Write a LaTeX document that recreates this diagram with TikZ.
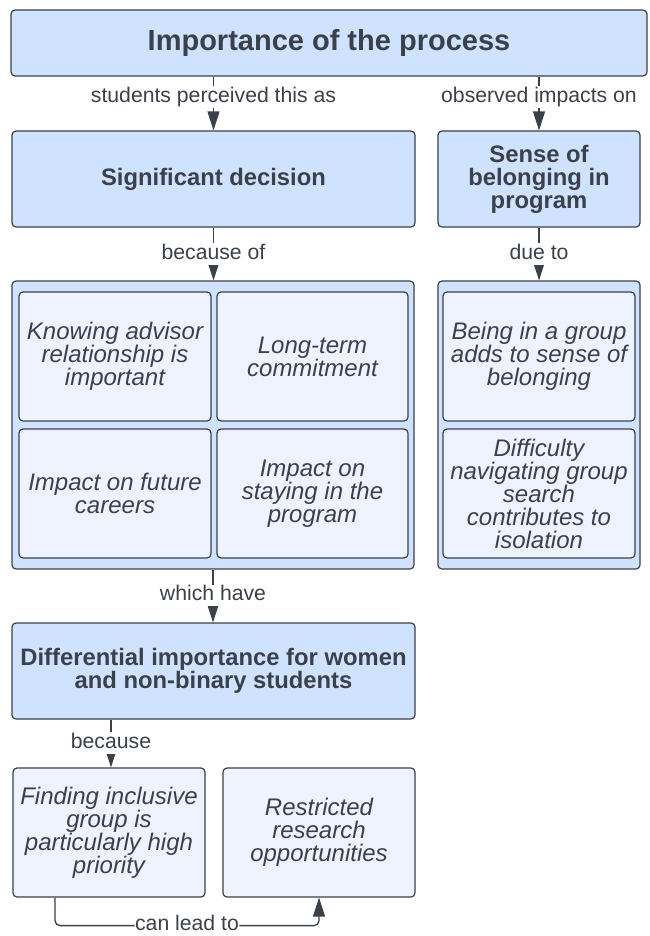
\documentclass[tikz,border=0pt]{standalone}
\usepackage{fontspec}
\setmainfont{Liberation Sans}
\usetikzlibrary{arrows.meta}
\definecolor{ink}{HTML}{3A414A}
\definecolor{boxblue}{HTML}{CFE2FF}
\definecolor{innerblue}{HTML}{EDF4FF}
\tikzset{
  base/.style={draw=ink, line width=1.2pt, rounded corners=4pt, inner sep=0pt, text=ink, align=center},
  mainbox/.style={base, fill=boxblue, font=\bfseries\fontsize{23.8}{23}\selectfont},
  contbox/.style={base, fill=boxblue},
  itembox/.style={base, fill=innerblue, font=\itshape\fontsize{24}{23}\selectfont},
  arr/.style={draw=ink, line width=1.3pt, -{Triangle[length=19pt,width=12pt]}},
  lbl/.style={fill=white, text=ink, inner sep=1pt, text height=15pt, text depth=4.5pt, font=\fontsize{21.2}{22}\selectfont}
}
\begin{document}
\begin{tikzpicture}[x=1pt,y=-1pt]
\useasboundingbox (0,0) rectangle (649,936);
\fill[white] (0,0) rectangle (649,936);

\node[mainbox, minimum width=636pt, minimum height=66pt, font=\bfseries\fontsize{29}{30}\selectfont] (title) at (329,43) {Importance of the process};

\node[mainbox, minimum width=403pt, minimum height=96pt] (sig) at (213.5,179) {Significant decision};
\node[mainbox, minimum width=202pt, minimum height=96pt] (sense) at (539,179) {Sense of\\belonging in\\program};

\node[contbox, minimum width=402pt, minimum height=288pt] (contL) at (213,425) {};
\node[contbox, minimum width=202pt, minimum height=288pt] (contR) at (539,425) {};

\node[itembox, minimum width=192pt, minimum height=129pt] (k1) at (115,356.5) {Knowing advisor\\relationship is\\important};
\node[itembox, minimum width=191pt, minimum height=129pt] (k2) at (312.5,356.5) {Long-term\\commitment};
\node[itembox, minimum width=192pt, minimum height=129pt] (k3) at (115,493.5) {Impact on future\\careers};
\node[itembox, minimum width=191pt, minimum height=129pt] (k4) at (312.5,493.5) {Impact on\\staying in the\\program};

\node[itembox, minimum width=192pt, minimum height=129pt] (b1) at (539,356.5) {Being in a group\\adds to sense of\\belonging};
\node[itembox, minimum width=192pt, minimum height=129pt] (b2) at (539,493.5) {Difficulty\\navigating group\\search\\contributes to\\isolation};

\node[mainbox, minimum width=403pt, minimum height=96pt] (diff) at (213.5,671) {Differential importance for women\\and non-binary students};

\node[itembox, minimum width=192pt, minimum height=129pt] (find) at (109,832.5) {Finding inclusive\\group is\\particularly high\\priority};
\node[itembox, minimum width=192pt, minimum height=129pt] (restr) at (319,832.5) {Restricted\\research\\opportunities};

\draw[arr] (title.south -| sig.north) -- node[lbl, pos=0.377] {students perceived this as} (sig.north);
\draw[arr] (title.south -| sense.north) -- node[lbl, pos=0.377] {observed impacts on} (sense.north);
\draw[arr] (sig.south) -- node[lbl, pos=0.5] {because of} (sig.south |- contL.north);
\draw[arr] (sense.south) -- node[lbl, pos=0.5] {due to} (contR.north);
\draw[arr] (contL.south) -- node[lbl, pos=0.495] {which have} (contL.south |- diff.north);
\draw[arr] ([xshift=2pt]diff.south -| find.north) -- node[lbl, pos=0.485] {because} ([xshift=2pt]find.north);
\draw[arr, rounded corners=5pt] ([xshift=-54pt]find.south) -- ++(0,28) -| node[lbl, pos=0.25, text height=11pt, text depth=0pt, inner sep=0.5pt, yshift=0.5pt] {can lead to} (restr.south);
\end{tikzpicture}
\end{document}
